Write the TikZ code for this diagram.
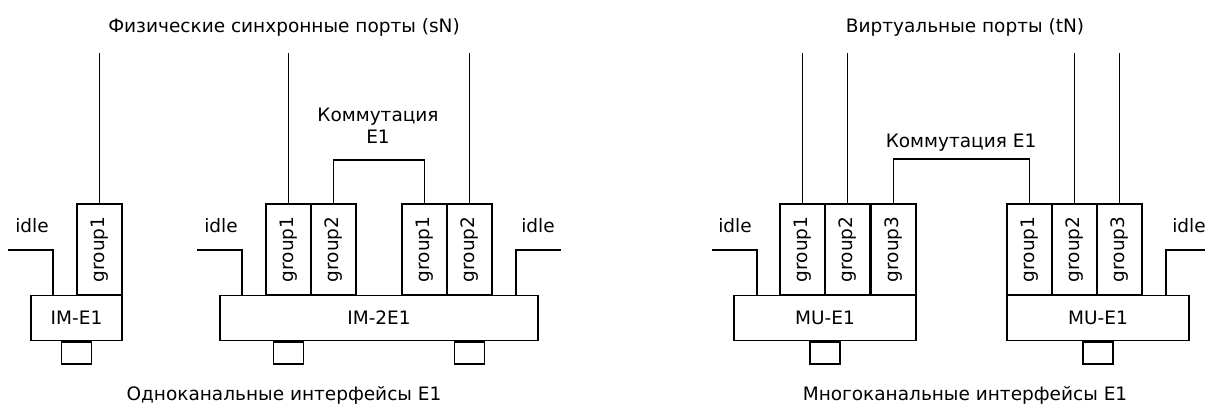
\documentclass[tikz,border=0pt]{standalone}
\usepackage{fontspec}
\setmainfont{DejaVu Sans}
\usepackage{graphicx}
\usetikzlibrary{positioning}

\tikzset{
	grp/.style={draw, rectangle, minimum width=45pt, minimum height=91pt, inner sep=0pt},
	unit/.style={draw, rectangle, minimum height=45pt, inner sep=0pt},
	plug/.style={draw, rectangle, minimum width=30pt, minimum height=22pt, inner sep=0pt, anchor=north},
}

\begin{document}
\begin{tikzpicture}[x=1pt, y=-1pt, line width=1.9pt, font=\fontsize{18.5}{22}\selectfont]
	\useasboundingbox (0,0) rectangle (1205,407);
	% group boxes of every unit
	\foreach \u/\lst in {a/{77/1}, b/{266/1,311/2,402/1,447/2}, c/{780/1,825/2,871/3}, d/{1007/1,1052/2,1097/3}} {
		\foreach \x/\k [count=\j] in \lst {
			\node[grp] (g-\j-\u) at (\x+22.5,249.5) {\rotatebox{90}{group\k}};
		}
	}
	\node[unit, minimum width=91pt] (m-a) at (76.5,318) {IM-E1};
	\node[unit, minimum width=318pt] (m-b) at (379,318) {IM-2E1};
	\node[unit, minimum width=182pt] (m-c) at (825,318) {MU-E1};
	\node[unit, minimum width=182pt] (m-d) at (1098,318) {MU-E1};
	
	\node[plug] (p-a) at (m-a.south) {};
	\node[plug] (p-b1) at (m-b.south -| g-1-b) {};
	\node[plug] (p-b2) at (m-b.south -| g-4-b) {};
	\node[plug] (p-c) at (m-c.south) {};
	\node[plug] (p-d) at (m-d.south) {};
	
	% idle lines
	\coordinate (i-a) at (8,250);
	\coordinate (i-b1) at (197,250);
	\coordinate (i-b2) at (561,250);
	\coordinate (i-c) at (712,250);
	\coordinate (i-d) at (1205,250);
	\draw (i-a) -| ([xshift=23pt]m-a.north west);
	\draw (i-b1) -| ([xshift=23pt]m-b.north west);
	\draw (i-b2) -| ([xshift=-23pt]m-b.north east);
	\draw (i-c) -| ([xshift=24pt]m-c.north west);
	\draw (i-d) -| ([xshift=-24pt]m-d.north east);
	\node (l-a) at (32,226) {idle};
	\node (l-b1) at (221,226) {idle};
	\node (l-b2) at (538,226) {idle};
	\node (l-c) at (735,226) {idle};
	\node (l-d) at (1189,226) {idle};
	
	% ports
	\foreach \g in {1-a,1-b,4-b,1-c,2-c,2-d,3-d}
		\draw (g-\g.north) -- (g-\g.north |- 0,53);
	
	% switching
	\draw (g-2-b.north) -- ++(0,-43) -| (g-3-b.north);
	\draw (g-3-c.north) -- ++(0,-44) -| (g-1-d.north);
	\node[align=center] (k-b) at (378,126) {Коммутация\\E1};
	\node (k-c) at (961,143) {Коммутация E1};
	
	\node (t-s) at (284,27) {Физические синхронные порты (sN)};
	\node (t-t) at (965,27) {Виртуальные порты (tN)};
	\node (c-s) at (284,395) {Одноканальные интерфейсы E1};
	\node (c-t) at (965,395) {Многоканальные интерфейсы E1};
\end{tikzpicture}
\end{document}
